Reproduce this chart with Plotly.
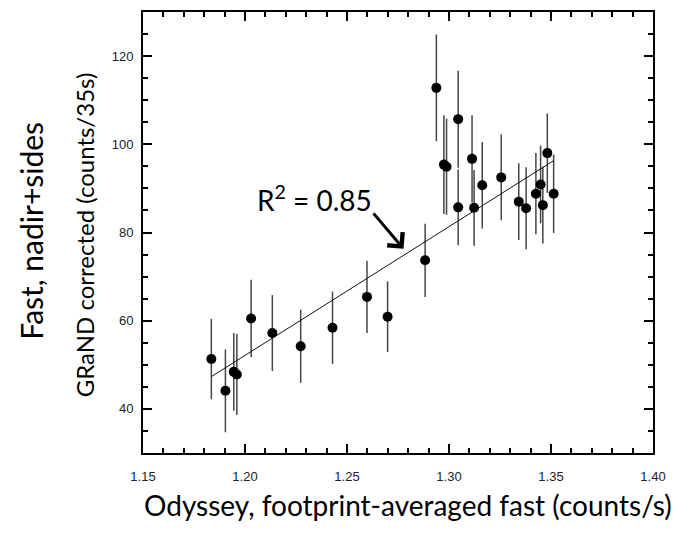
import plotly.graph_objects as go

# Data
odyssey_fast = [1.1835, 1.1904, 1.1945, 1.1960, 1.2030, 1.2134, 1.2273, 1.2429, 1.2598,
                1.2699, 1.2883, 1.2938, 1.2975, 1.2988, 1.3045, 1.3045, 1.3113, 1.3123,
                1.3163, 1.3256, 1.3342, 1.3378, 1.3426, 1.3449, 1.3460, 1.3482, 1.3513]
grand_corrected = [51.3, 44.1, 48.4, 47.8, 60.5, 57.2, 54.2, 58.4, 65.4,
                   60.9, 73.7, 112.8, 95.4, 94.9, 105.7, 85.7, 96.7, 85.6,
                   90.7, 92.5, 87.0, 85.5, 88.8, 90.9, 86.2, 98.0, 88.8]
grand_error = [9.1, 9.4, 8.8, 9.2, 8.8, 8.6, 8.3, 8.2, 8.2,
               8.0, 8.3, 12.1, 11.2, 10.9, 11.0, 8.6, 9.9, 8.6,
               9.8, 9.7, 8.7, 9.3, 9.2, 8.8, 8.7, 9.0, 8.9]
fit_x = [1.1838, 1.3513]
fit_y = [47.4, 96.3]
x_ticks = [1.15, 1.20, 1.25, 1.30, 1.35, 1.40]
y_ticks = [40, 60, 80, 100, 120]

fig = go.Figure()
fig.add_trace(go.Scatter(
    x=odyssey_fast, y=grand_corrected, mode="markers",
    marker=dict(color="rgba(0,0,0,0)", size=1),
    error_y=dict(type="data", array=grand_error, visible=True,
                 color="#444444", thickness=1.5, width=0),
    showlegend=False, hoverinfo="skip"))
fig.add_trace(go.Scatter(
    x=fit_x, y=fit_y, mode="lines",
    line=dict(color="#111111", width=1), showlegend=False))
fig.add_trace(go.Scatter(
    x=odyssey_fast, y=grand_corrected, mode="markers",
    marker=dict(color="black", size=10, line=dict(width=0)),
    showlegend=False))

tickfont = dict(family="Liberation Sans, Arial", size=13, color="#222222")
fig.update_xaxes(
    range=[1.15, 1.40], tickvals=x_ticks, ticktext=[f"{v:.2f}" for v in x_ticks],
    ticks="inside", ticklen=9, tickwidth=1.5, tickcolor="black",
    showline=True, linecolor="black", linewidth=2, mirror="ticks",
    showgrid=False, zeroline=False, tickfont=tickfont, ticklabelstandoff=10,
    minor=dict(ticks="inside", dtick=0.01, ticklen=5, tickwidth=1.5, tickcolor="black", showgrid=False))
fig.update_yaxes(
    range=[30, 130], tickvals=y_ticks,
    ticks="inside", ticklen=9, tickwidth=1.5, tickcolor="black",
    showline=True, linecolor="black", linewidth=2, mirror="ticks",
    showgrid=False, zeroline=False, tickfont=tickfont, ticklabelstandoff=5,
    minor=dict(ticks="inside", dtick=5, tick0=0, ticklen=5, tickwidth=1.5, tickcolor="black", showgrid=False))

W, H = 676, 534
L, R, T, B = 143, 20, 10, 81
pw, ph = W - L - R, H - T - B

def px(xp):
    return (xp - L) / pw

def py(yp):
    return (H - B - yp) / ph

title_font = "Lato, Open Sans, sans-serif"
annotations = [
    dict(text="Odyssey, footprint-averaged fast (counts/s)", xref="paper", yref="paper",
         x=px(410), y=py(505), xanchor="center", yanchor="middle", showarrow=False,
         font=dict(family=title_font, size=28, color="black")),
    dict(text="GRaND corrected (counts/35s)", xref="paper", yref="paper",
         x=px(85), y=py(234), xanchor="center", yanchor="middle", showarrow=False,
         textangle=-90, font=dict(family=title_font, size=24, color="black")),
    dict(text="Fast, nadir+sides", xref="paper", yref="paper",
         x=px(30), y=py(230), xanchor="center", yanchor="middle", showarrow=False,
         textangle=-90, font=dict(family=title_font, size=30, color="black")),
    dict(text="R<sup>2</sup> = 0.85", xref="paper", yref="paper",
         x=px(316), y=py(197), xanchor="center", yanchor="middle", showarrow=False,
         font=dict(family=title_font, size=28, color="black")),
    dict(text=" ", x=1.2777, y=76.3, xref="x", yref="y", showarrow=True,
         ax=-33, ay=-39, arrowhead=4, arrowsize=1.3, arrowwidth=3, arrowcolor="black"),
]

fig.update_layout(
    width=W, height=H, margin=dict(l=L, r=R, t=T, b=B),
    paper_bgcolor="white", plot_bgcolor="white",
    annotations=annotations, showlegend=False)

fig.write_html("out.html")
